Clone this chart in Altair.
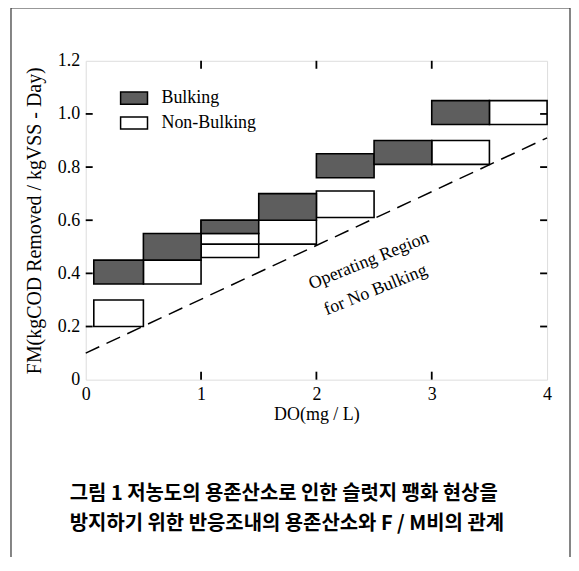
import altair as alt
import pandas as pd

# ---------------- data ----------------
bulk_x1 = [0.07, 0.5, 1.0, 1.5, 2.0, 2.5, 3.0]
bulk_x2 = [0.5, 1.0, 1.5, 2.0, 2.5, 3.0, 3.5]
bulk_lo = [0.36, 0.45, 0.55, 0.60, 0.76, 0.81, 0.96]
bulk_hi = [0.45, 0.55, 0.60, 0.70, 0.85, 0.90, 1.05]

non_x1 = [0.07, 0.5, 1.0, 1.0, 2.0, 3.0, 3.5]
non_x2 = [0.5, 1.0, 1.5, 2.0, 2.5, 3.5, 4.0]
non_lo = [0.20, 0.36, 0.46, 0.51, 0.61, 0.81, 0.96]
non_hi = [0.30, 0.45, 0.55, 0.60, 0.71, 0.90, 1.05]

dash_x = [0, 4]
dash_y = [0.10, 0.91]

ann_text = ["Operating Region", "for No Bulking"]
ann_x = [2.456, 2.513]
ann_y = [0.447, 0.337]

x_labels = [0, 1, 2, 3, 4]
y_labels = [0, 0.2, 0.4, 0.6, 0.8, 1.0, 1.2]
x_ticks = [1, 2, 3]
y_ticks = [0.2, 0.4, 0.6, 0.8, 1.0]

categories = ["Bulking", "Non-Bulking"]
caption = [
    "그림 1  저농도의 용존산소로 인한 슬럿지 팽화 현상을",
    "방지하기 위한 반응조내의 용존산소와 F / M비의 관계",
]

# ---------------- tables ----------------
bulk_df = pd.DataFrame({"x": bulk_x1, "x2": bulk_x2, "y": bulk_lo, "y2": bulk_hi,
                        "kind": categories[0]})
non_df = pd.DataFrame({"x": non_x1, "x2": non_x2, "y": non_lo, "y2": non_hi,
                       "kind": categories[1]})
dash_df = pd.DataFrame({"x": dash_x, "y": dash_y})
ann_df = pd.DataFrame({"x": ann_x, "y": ann_y, "t": ann_text})
xt_df = pd.DataFrame({"x": x_ticks})
yt_df = pd.DataFrame({"y": y_ticks})
one = pd.DataFrame({"a": [0]})

W, H = 463, 320
SERIF = "Liberation Serif"

xs = alt.Scale(domain=[0, 4], nice=False, zero=False)
ys = alt.Scale(domain=[0, 1.2], nice=False)

x_axis = alt.Axis(values=x_labels, title="DO(mg / L)", labelFont=SERIF, labelFontSize=18,
                  labelPadding=6, labelColor="black", titleFont=SERIF, titleFontSize=18,
                  titleFontWeight="normal", titleColor="black", titleY=35,
                  titleBaseline="middle", ticks=False, domain=False, grid=False,
                  labelFlush=False)
y_axis = alt.Axis(values=y_labels, title="FM(kgCOD Removed / kgVSS - Day)",
                  labelExpr="datum.value == 0 ? '0' : format(datum.value, '.1f')",
                  labelFont=SERIF, labelFontSize=18, labelPadding=6, labelColor="black",
                  titleFont=SERIF, titleFontSize=20, titleFontWeight="normal",
                  titleColor="black", titleX=-51, titleY=H / 2, titleAngle=270,
                  titleAlign="center", titleBaseline="middle", ticks=False,
                  domain=False, grid=False, labelFlush=False)

X = alt.X("x:Q", scale=xs, axis=x_axis)
Y = alt.Y("y:Q", scale=ys, axis=y_axis)

fill = alt.Fill("kind:N",
                scale=alt.Scale(domain=categories, range=["#5e5e5e", "rgba(255,255,255,0)"]),
                legend=alt.Legend(orient="none", legendX=34, legendY=23, title=None,
                                  symbolType="M-1,-0.45H1V0.45H-1Z", symbolSize=729,
                                  symbolStrokeColor="black", symbolStrokeWidth=1.5,
                                  labelFont=SERIF, labelFontSize=18, labelColor="black",
                                  labelOffset=13, rowPadding=1, padding=0))

non_layer = alt.Chart(non_df).mark_rect(stroke="black", strokeWidth=1.6).encode(
    x=X, x2="x2:Q", y=Y, y2="y2:Q", fill=fill)
bulk_layer = alt.Chart(bulk_df).mark_rect(stroke="black", strokeWidth=1.6).encode(
    x=X, x2="x2:Q", y=Y, y2="y2:Q", fill=fill)

dash_layer = alt.Chart(dash_df).mark_line(color="black", strokeWidth=1.5,
                                          strokeDash=[15, 8]).encode(x=X, y=Y)

ann_layer = alt.Chart(ann_df).mark_text(angle=338, font=SERIF, fontSize=18, color="black",
                                        align="center", baseline="middle").encode(
    x=X, y=Y, text="t:N")

tick_style = dict(color="black", strokeWidth=1.8)
left_ticks = alt.Chart(yt_df).mark_rule(**tick_style).encode(
    y=Y, x=alt.value(0), x2=alt.value(7))
right_ticks = alt.Chart(yt_df).mark_rule(**tick_style).encode(
    y=Y, x=alt.value(W - 7), x2=alt.value(W))
bottom_ticks = alt.Chart(xt_df).mark_rule(**tick_style).encode(
    x=X, y=alt.value(H - 8), y2=alt.value(H))
top_ticks = alt.Chart(xt_df).mark_rule(**tick_style).encode(
    x=X, y=alt.value(0), y2=alt.value(8))

frame_style = dict(color="#333333", strokeWidth=1.2)
frame_top = alt.Chart(one).mark_rule(**frame_style).encode(
    x=alt.value(-75), x2=alt.value(486), y=alt.value(-53))
frame_left = alt.Chart(one).mark_rule(**frame_style).encode(
    x=alt.value(-75), y=alt.value(-53), y2=alt.value(498))
frame_right = alt.Chart(one).mark_rule(**frame_style).encode(
    x=alt.value(486), y=alt.value(-53), y2=alt.value(498))

cap_style = dict(align="left", baseline="middle", font="Noto Sans CJK KR",
                 fontWeight="bold", fontSize=20, color="black")
cap1 = alt.Chart(pd.DataFrame({"t": [caption[0]]})).mark_text(**cap_style).encode(
    text="t:N", x=alt.value(-16), y=alt.value(435))
cap2 = alt.Chart(pd.DataFrame({"t": [caption[1]]})).mark_text(**cap_style).encode(
    text="t:N", x=alt.value(-16), y=alt.value(465))

chart = alt.layer(
    non_layer, bulk_layer, dash_layer, ann_layer,
    left_ticks, right_ticks, bottom_ticks, top_ticks,
    frame_top, frame_left, frame_right, cap1, cap2,
).properties(
    width=W, height=H,
    autosize=alt.AutoSizeParams(type="none"),
    padding={"left": 78, "top": 52, "right": 24, "bottom": 178},
).configure_view(
    stroke="black", strokeWidth=1.6
).configure(background="white")

chart.save("out.html", embed_options={"renderer": "svg", "actions": False})
